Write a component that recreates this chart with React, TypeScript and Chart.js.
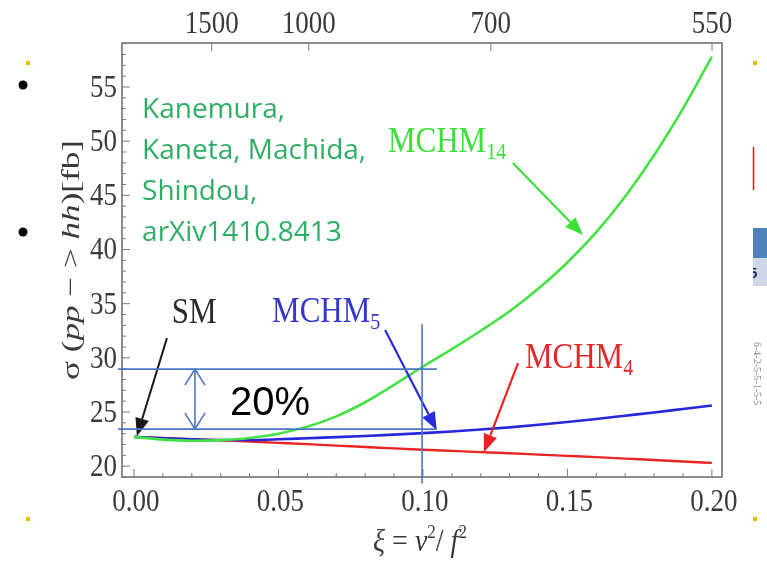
import React, { useEffect, useRef } from "react";
import { Chart, registerables } from "chart.js";

Chart.register(...registerables);

// ---------- data ----------
const xi = [0, 0.01, 0.02, 0.03, 0.04, 0.05, 0.06, 0.07, 0.08, 0.09, 0.1, 0.11, 0.12, 0.13, 0.14, 0.15, 0.16, 0.17, 0.18, 0.19, 0.2];
const mchm14 = [22.7, 22.45, 22.35, 22.4, 22.6, 23.0, 23.65, 24.6, 25.9, 27.5, 29.2, 30.8, 32.5, 34.3, 36.4, 38.8, 41.6, 44.9, 48.7, 53.0, 57.8];
const mchm5 = [22.7, 22.58, 22.48, 22.42, 22.42, 22.48, 22.58, 22.68, 22.79, 22.91, 23.05, 23.2, 23.38, 23.58, 23.82, 24.08, 24.36, 24.66, 24.96, 25.28, 25.6];
const mchm4 = [22.7, 22.6, 22.5, 22.39, 22.27, 22.15, 22.03, 21.9, 21.77, 21.64, 21.52, 21.41, 21.3, 21.19, 21.07, 20.95, 20.83, 20.7, 20.57, 20.43, 20.3];

const xTickValues = [0, 0.05, 0.1, 0.15, 0.2];
const xTickLabels = ["0.00", "0.05", "0.10", "0.15", "0.20"];
const yTickValues = [20, 25, 30, 35, 40, 45, 50, 55];
const yTickLabels = ["20", "25", "30", "35", "40", "45", "50", "55"];
const topTickMasses = [1500, 1000, 700, 550];
const topTickLabels = ["1500", "1000", "700", "550"];
const vev = 246;

const xMin = -0.00415;
const xMax = 0.2035;
const yMin = 19;
const yMax = 59.06;

const citeLines = ["Kanemura,", "Kaneta, Machida,", "Shindou,", "arXiv1410.8413"];

// ---------- helpers ----------
const SERIF = '"Liberation Serif", "Times New Roman", serif';

function stretchText(ctx: CanvasRenderingContext2D, s: string, x: number, y: number, sy: number) {
  ctx.save();
  ctx.translate(x, y);
  ctx.scale(1, sy);
  ctx.fillText(s, 0, 0);
  ctx.restore();
}

function line(ctx: CanvasRenderingContext2D, x1: number, y1: number, x2: number, y2: number) {
  ctx.beginPath();
  ctx.moveTo(x1, y1);
  ctx.lineTo(x2, y2);
  ctx.stroke();
}

function arrow(ctx: CanvasRenderingContext2D, x1: number, y1: number, x2: number, y2: number, color: string, w: number, hl = 18, hw = 7) {
  const a = Math.atan2(y2 - y1, x2 - x1);
  const bx = x2 - hl * Math.cos(a);
  const by = y2 - hl * Math.sin(a);
  ctx.save();
  ctx.strokeStyle = color;
  ctx.fillStyle = color;
  ctx.lineWidth = w;
  line(ctx, x1, y1, bx, by);
  ctx.beginPath();
  ctx.moveTo(x2, y2);
  ctx.lineTo(bx + hw * Math.sin(a), by - hw * Math.cos(a));
  ctx.lineTo(bx - hw * Math.sin(a), by + hw * Math.cos(a));
  ctx.closePath();
  ctx.fill();
  ctx.restore();
}

type Run = { t: string; font: string; dy?: number };

function runsWidth(ctx: CanvasRenderingContext2D, runs: Run[]) {
  let w = 0;
  for (const r of runs) {
    ctx.font = r.font;
    w += ctx.measureText(r.t).width;
  }
  return w;
}

function drawRuns(ctx: CanvasRenderingContext2D, runs: Run[], x: number, y: number) {
  let cx = x;
  for (const r of runs) {
    ctx.font = r.font;
    ctx.fillText(r.t, cx, y + (r.dy || 0));
    cx += ctx.measureText(r.t).width;
  }
}

function modelLabel(ctx: CanvasRenderingContext2D, main: string, sub: string, x: number, y: number, color: string) {
  ctx.save();
  ctx.fillStyle = color;
  ctx.textAlign = "left";
  ctx.textBaseline = "alphabetic";
  ctx.font = `31px ${SERIF}`;
  stretchText(ctx, main, x, y, 1.15);
  const w = ctx.measureText(main).width;
  ctx.font = `20px ${SERIF}`;
  stretchText(ctx, sub, x + w, y + 7, 1.15);
  ctx.restore();
}

const decoPlugin = {
  id: "deco",
  afterDraw(chart: any) {
    const ctx: CanvasRenderingContext2D = chart.ctx;
    const xs = chart.scales.x;
    const ys = chart.scales.y;
    const X = (v: number) => xs.getPixelForValue(v);
    const Y = (v: number) => ys.getPixelForValue(v);
    const { left, right, top, bottom } = chart.chartArea;

    ctx.save();
    // frame
    ctx.strokeStyle = "#8c8c8c";
    ctx.lineWidth = 2;
    ctx.strokeRect(left, top, right - left, bottom - top);

    // inner ticks
    ctx.lineWidth = 1;
    ctx.strokeStyle = "#7a7a7a";
    for (let k = 0; k <= 20; k++) {
      const px = X(k / 100);
      line(ctx, px, bottom, px, bottom - (k % 5 === 0 ? 8 : 4));
    }
    for (let v = 19; v <= 59; v++) {
      const py = Y(v);
      line(ctx, left, py, left + (v % 5 === 0 ? 8 : 4), py);
    }
    topTickMasses.forEach((f) => {
      const px = X((vev / f) ** 2);
      line(ctx, px, top, px, top + 8);
    });

    // tick labels
    ctx.fillStyle = "#3a3a3a";
    ctx.font = `27px ${SERIF}`;
    ctx.textBaseline = "alphabetic";
    ctx.textAlign = "center";
    xTickValues.forEach((v, i) => stretchText(ctx, xTickLabels[i], X(v) + 2, 511, 1.15));
    topTickMasses.forEach((f, i) => stretchText(ctx, topTickLabels[i], X((vev / f) ** 2), 33, 1.15));
    ctx.textAlign = "right";
    yTickValues.forEach((v, i) => stretchText(ctx, yTickLabels[i], left - 5, Y(v) + 10, 1.15));

    // x title
    ctx.textAlign = "left";
    const it = `italic 28px ${SERIF}`;
    const rm = `28px ${SERIF}`;
    const sup = `17px ${SERIF}`;
    const xRuns: Run[] = [
      { t: "ξ", font: it },
      { t: " = ", font: rm },
      { t: "v", font: it },
      { t: "2", font: sup, dy: -12 },
      { t: "/", font: rm },
      { t: " f", font: it },
      { t: "2", font: sup, dy: -12 },
    ];
    const xw = runsWidth(ctx, xRuns);
    const cxT = (left + right) / 2 - 2;
    ctx.save();
    ctx.translate(cxT, 551);
    ctx.scale(1, 1.1);
    drawRuns(ctx, xRuns, -xw / 2, 0);
    ctx.restore();

    // y title
    const yf = `26px ${SERIF}`;
    const yi = `italic 26px ${SERIF}`;
    const yRuns: Run[] = [
      { t: "σ (", font: yf },
      { t: "pp", font: yi },
      { t: " − > ", font: yf },
      { t: "hh", font: yi },
      { t: ")[fb]", font: yf },
    ];
    const yw = runsWidth(ctx, yRuns);
    ctx.save();
    ctx.translate(79, 260);
    ctx.rotate(-Math.PI / 2);
    ctx.scale(240 / yw, 1);
    ctx.textBaseline = "alphabetic";
    drawRuns(ctx, yRuns, -yw / 2, 0);
    ctx.restore();

    // citation
    ctx.fillStyle = "#2fae66";
    ctx.font = `28px "Open Sans", "Noto Sans", sans-serif`;
    ctx.textAlign = "left";
    citeLines.forEach((s, i) => ctx.fillText(s, X(0.0028), Y(52.13) + i * 41));

    // model labels and arrows
    modelLabel(ctx, "MCHM", "14", X(0.0879), Y(48.99), "#3be03b");
    arrow(ctx, X(0.1311), Y(47.98), X(0.1554), Y(41.33), "#3be03b", 2.2);

    ctx.fillStyle = "#2a2a2a";
    ctx.font = `31px ${SERIF}`;
    stretchText(ctx, "SM", X(0.0131), Y(33.2), 1.15);
    arrow(ctx, X(0.0114), Y(31.82), X(0.001), Y(22.77), "#1a1a1a", 2);

    modelLabel(ctx, "MCHM", "5", X(0.0478), Y(33.3), "#3535d0");
    arrow(ctx, X(0.0869), Y(32.56), X(0.1048), Y(23.32), "#2a2ae0", 2.2);

    modelLabel(ctx, "MCHM", "4", X(0.1353), Y(29.05), "#e02a2a");
    arrow(ctx, X(0.1329), Y(29.51), X(0.1211), Y(21.29), "#ee2222", 2.2);

    // 20% annotation (blue guide lines)
    const bl = "#4a78c0";
    ctx.strokeStyle = bl;
    ctx.lineWidth = 1.6;
    line(ctx, X(-0.0055), Y(28.96), X(0.1048), Y(28.96));
    line(ctx, X(-0.0055), Y(23.42), X(0.1048), Y(23.42));
    line(ctx, X(0.0997), Y(33.1), X(0.0997), Y(18.4));
    const ax = X(0.0211);
    const ya = Y(28.96);
    const yb = Y(23.42);
    line(ctx, ax, ya, ax, yb);
    ctx.beginPath();
    ctx.moveTo(ax - 10, ya + 16);
    ctx.lineTo(ax, ya);
    ctx.lineTo(ax + 10, ya + 16);
    ctx.moveTo(ax - 10, yb - 16);
    ctx.lineTo(ax, yb);
    ctx.lineTo(ax + 10, yb - 16);
    ctx.stroke();

    ctx.fillStyle = "#000";
    ctx.font = `40px "Liberation Sans", Arial, sans-serif`;
    ctx.fillText("20%", X(0.0332), Y(24.71));

    // slide decorations outside the chart
    ctx.fillStyle = "#000";
    [85, 232].forEach((py) => {
      ctx.beginPath();
      ctx.arc(23, py, 4.5, 0, Math.PI * 2);
      ctx.fill();
    });
    ctx.fillStyle = "#f5b800";
    [[26, 61], [26, 517], [753, 61], [753, 517]].forEach(([px, py]) => ctx.fillRect(px, py, 4, 4));
    ctx.strokeStyle = "#e81010";
    ctx.lineWidth = 1.5;
    line(ctx, 753.5, 147, 753.5, 190);
    ctx.fillStyle = "#4f81bd";
    ctx.fillRect(753, 228, 14, 30);
    ctx.fillStyle = "#d0d8e8";
    ctx.fillRect(753, 258, 14, 28);
    ctx.save();
    ctx.beginPath();
    ctx.rect(753, 258, 14, 28);
    ctx.clip();
    ctx.fillStyle = "#1f2a6e";
    ctx.font = `bold 15px "Liberation Sans", sans-serif`;
    ctx.fillText("5", 749, 278);
    ctx.restore();
    ctx.save();
    ctx.translate(754, 342);
    ctx.rotate(Math.PI / 2);
    ctx.fillStyle = "#8a8a8a";
    ctx.font = `10px ${SERIF}`;
    ctx.fillText("6-4-2-5-5-1-5-5", 0, 0);
    ctx.restore();

    ctx.restore();
  },
};

export default function App() {
  const ref = useRef<HTMLCanvasElement | null>(null);

  useEffect(() => {
    if (!ref.current) return;
    const mk = (vals: number[]) => xi.map((x, i) => ({ x, y: vals[i] }));
    const common = { pointRadius: 0, cubicInterpolationMode: "monotone" as const, fill: false };
    const chart = new Chart(ref.current, {
      type: "line",
      data: {
        datasets: [
          { label: "MCHM14", data: mk(mchm14), borderColor: "#45e245", borderWidth: 2.6, ...common },
          { label: "MCHM5", data: mk(mchm5), borderColor: "#2626dc", borderWidth: 2.6, ...common },
          { label: "MCHM4", data: mk(mchm4), borderColor: "#e82424", borderWidth: 2.4, ...common },
        ],
      },
      options: {
        animation: false,
        responsive: false,
        maintainAspectRatio: false,
        layout: { padding: { left: 0, right: 45, top: 0, bottom: 0 } },
        plugins: { legend: { display: false }, tooltip: { enabled: false } },
        scales: {
          x: {
            type: "linear",
            position: "bottom",
            min: xMin,
            max: xMax,
            ticks: { display: false },
            grid: { display: false },
            border: { display: false },
            afterFit: (s: any) => { s.height = 87; },
          },
          x2: {
            type: "linear",
            position: "top",
            min: xMin,
            max: xMax,
            ticks: { display: false },
            grid: { display: false },
            border: { display: false },
            afterFit: (s: any) => { s.height = 43; },
          },
          y: {
            type: "linear",
            min: yMin,
            max: yMax,
            ticks: { display: false },
            grid: { display: false },
            border: { display: false },
            afterFit: (s: any) => { s.width = 122; },
          },
        },
      },
      plugins: [decoPlugin],
    });
    return () => chart.destroy();
  }, []);

  return (
    <div style={{ position: "absolute", left: 0, top: 0, width: 767, height: 564, background: "#fff" }}>
      <canvas ref={ref} width={767} height={564} style={{ display: "block" }} />
    </div>
  );
}
